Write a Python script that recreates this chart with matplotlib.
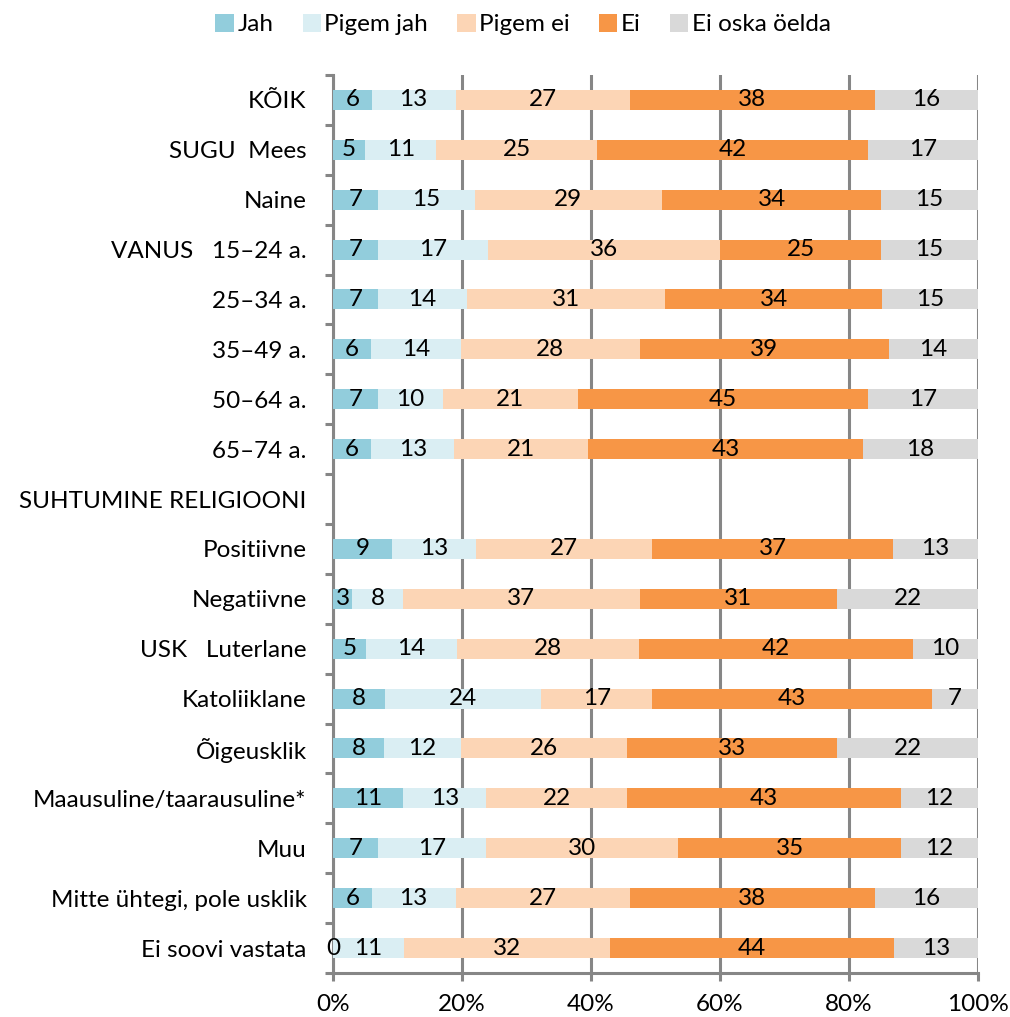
import matplotlib
matplotlib.use("Agg")
import matplotlib.pyplot as plt
import numpy as np
from matplotlib.ticker import FixedLocator, FuncFormatter

plt.rcParams['font.family'] = ['Lato', 'DejaVu Sans']

categories = ["KÕIK", "SUGU  Mees", "Naine", "VANUS   15–24 a.", "25–34 a.", "35–49 a.",
              "50–64 a.", "65–74 a.", "SUHTUMINE RELIGIOONI", "Positiivne", "Negatiivne",
              "USK   Luterlane", "Katoliiklane", "Õigeusklik", "Maausuline/taarausuline*",
              "Muu", "Mitte ühtegi, pole usklik", "Ei soovi vastata"]
series = ["Jah", "Pigem jah", "Pigem ei", "Ei", "Ei oska öelda"]
jah       = [6, 5, 7, 7, 7, 6, 7, 6, None, 9, 3, 5, 8, 8, 11, 7, 6, 0]
pigem_jah = [13, 11, 15, 17, 14, 14, 10, 13, None, 13, 8, 14, 24, 12, 13, 17, 13, 11]
pigem_ei  = [27, 25, 29, 36, 31, 28, 21, 21, None, 27, 37, 28, 17, 26, 22, 30, 27, 32]
ei        = [38, 42, 34, 25, 34, 39, 45, 43, None, 37, 31, 42, 43, 33, 43, 35, 38, 44]
ei_oska   = [16, 17, 15, 15, 15, 14, 17, 18, None, 13, 22, 10, 7, 22, 12, 12, 16, 13]
colors = ["#92CDDC", "#DAEEF3", "#FCD5B5", "#F79646", "#D9D9D9"]
xticks = [0, 20, 40, 60, 80, 100]

FS = 17.5
data = [jah, pigem_jah, pigem_ei, ei, ei_oska]
n = len(categories)
vals = np.array([[np.nan if v is None else v for v in s] for s in data], dtype=float)
totals = np.nansum(vals, axis=0)
totals[totals == 0] = 1
pct = vals / totals * 100

fig = plt.figure(figsize=(10.10, 10.17), dpi=100)
ax = fig.add_axes([0.3297, 0.0433, 0.9683 - 0.3297, 0.9263 - 0.0433])

y = np.arange(n)
left = np.zeros(n)
gray = "#868686"
for i, (name, col) in enumerate(zip(series, colors)):
    w = np.nan_to_num(pct[i])
    mask = ~np.isnan(pct[i])
    ax.barh(y[mask], w[mask], left=left[mask], height=0.4, color=col, label=name, zorder=3)
    for j in range(n):
        if mask[j]:
            ax.text(left[j] + w[j] / 2, y[j], f"{int(vals[i][j])}", ha='center', va='center',
                    fontsize=FS, color='black', zorder=4)
    left = left + w

ax.set_xlim(0, 100)
ax.set_ylim(n - 0.5, -0.5)
ax.set_yticks(y)
ax.set_yticklabels(categories, fontsize=FS)
ax.tick_params(axis='y', which='major', length=0, pad=19)
ax.yaxis.set_minor_locator(FixedLocator(np.arange(-0.5, n, 1.0)))
ax.tick_params(axis='y', which='minor', length=5.5, width=2.2, color=gray, direction='out')
ax.set_xticks(xticks)
ax.xaxis.set_major_formatter(FuncFormatter(lambda v, p: f"{int(v)}%"))
ax.tick_params(axis='x', length=5.5, width=2.2, color=gray, labelsize=FS, pad=10)
ax.grid(axis='x', color=gray, linewidth=2.2, zorder=1)
for s in ['top', 'right']:
    ax.spines[s].set_visible(False)
for s in ['left', 'bottom']:
    ax.spines[s].set_color(gray)
    ax.spines[s].set_linewidth(2.2)
ax.set_axisbelow(True)

fig.legend(loc='upper center', bbox_to_anchor=(0.518, 1.003), ncol=5, frameon=False,
           fontsize=FS, handlelength=0.75, handleheight=0.75, handletextpad=0.15,
           columnspacing=1.2, borderaxespad=0.3)

fig.savefig("out.png", dpi=100)
